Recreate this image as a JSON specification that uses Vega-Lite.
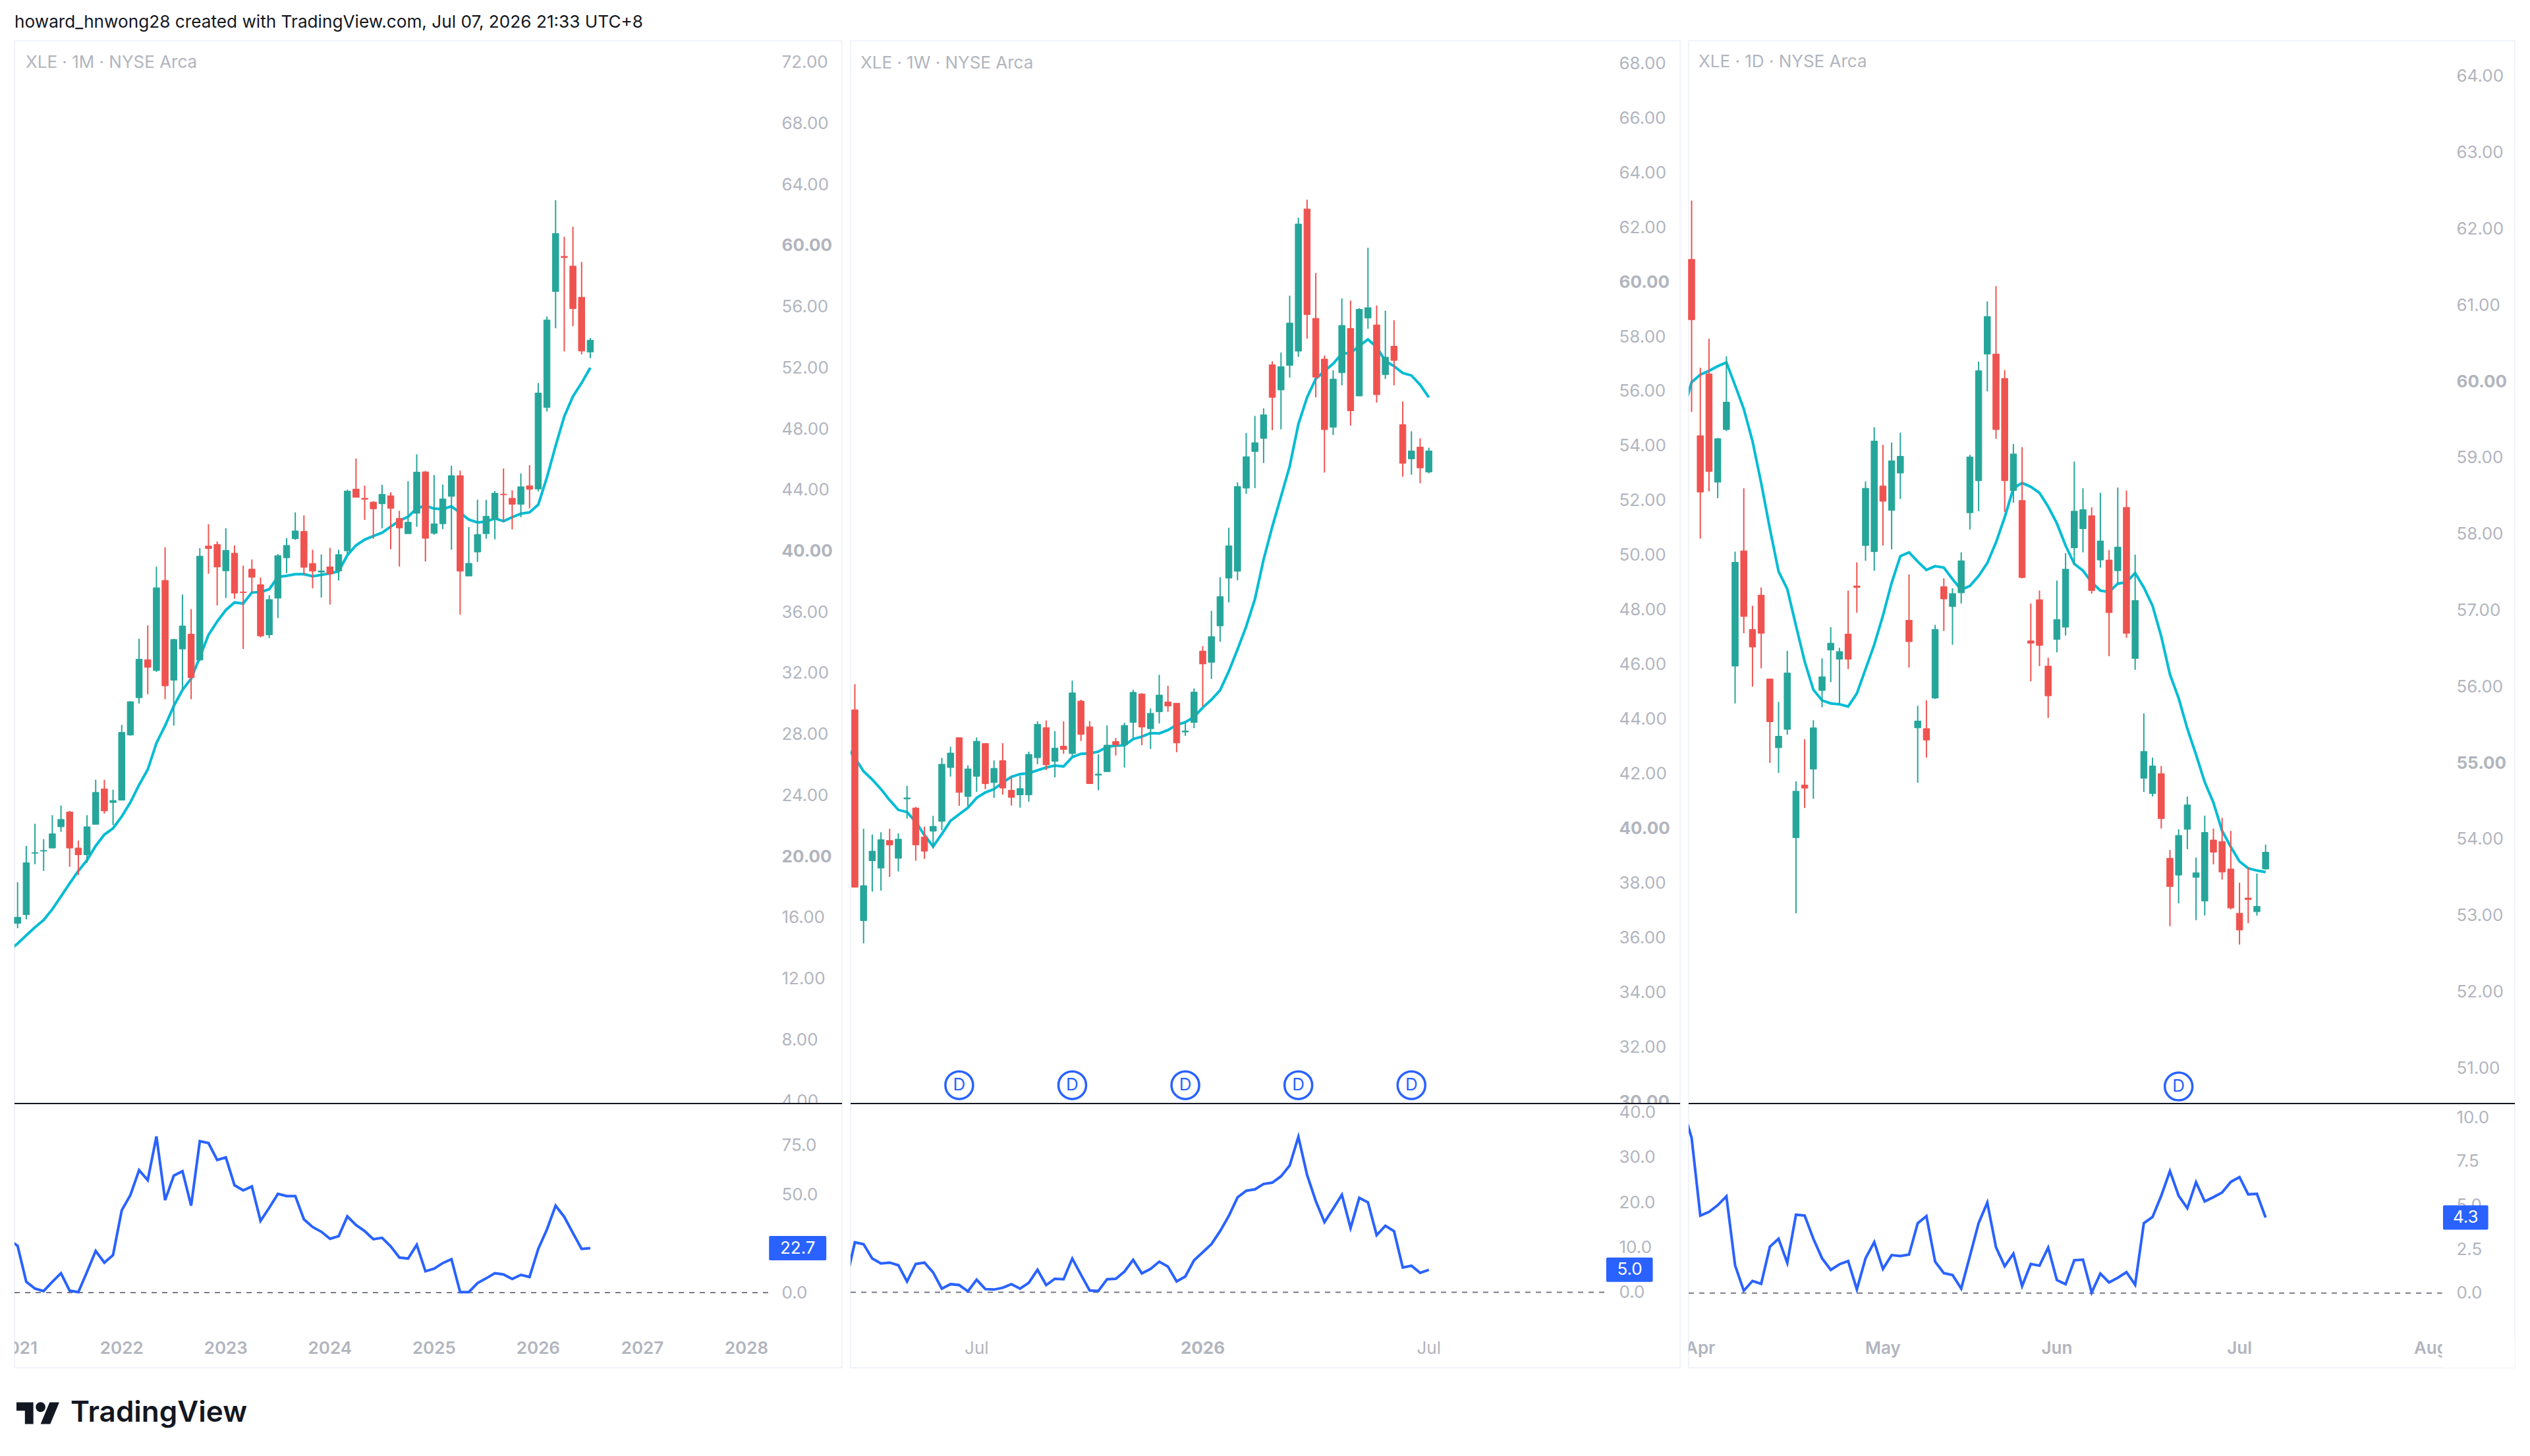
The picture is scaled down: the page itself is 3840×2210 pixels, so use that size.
{
"$schema":"https://vega.github.io/schema/vega-lite/v6.json",
"background":"#ffffff",
"padding":{"left":20,"top":20,"right":0,"bottom":0},
"title":{"text":"howard_hnwong28 created with TradingView.com, Jul 07, 2026 21:33 UTC+8","anchor":"start","frame":"group","font":"Inter","fontSize":26.2,"fontWeight":"normal","color":"#131722","offset":14},
"datasets":{
"monthly":[
{"i":-1,"ma":13.85,"ind":27},
{"i":0,"o":15.63,"h":18.32,"l":15.31,"c":16.03,"ma":14.3,"ind":23.9},
{"i":1,"o":16.2,"h":20.7,"l":15.89,"c":19.59,"ma":14.84,"ind":5.5},
{"i":2,"o":20.22,"h":22.14,"l":19.5,"c":20.26,"ma":15.37,"ind":2.1},
{"i":3,"o":20.36,"h":21.14,"l":19.06,"c":20.4,"ma":15.84,"ind":0.8},
{"i":4,"o":20.56,"h":22.71,"l":20.56,"c":21.49,"ma":16.55,"ind":5.5},
{"i":5,"o":21.95,"h":23.34,"l":21.62,"c":22.43,"ma":17.39,"ind":9.9},
{"i":6,"o":22.92,"h":22.99,"l":19.33,"c":20.56,"ma":18.24,"ind":1},
{"i":7,"o":20.56,"h":21.05,"l":18.8,"c":20.12,"ma":19.06,"ind":0.3},
{"i":8,"o":20.12,"h":22.71,"l":19.59,"c":21.95,"ma":19.77,"ind":10.6},
{"i":9,"o":22.11,"h":25.03,"l":22.11,"c":24.2,"ma":20.7,"ind":21.3},
{"i":10,"o":24.43,"h":25.03,"l":22.81,"c":22.99,"ma":21.44,"ind":15.3},
{"i":11,"o":23.54,"h":24.38,"l":22.06,"c":23.67,"ma":21.85,"ind":19.2},
{"i":12,"o":23.69,"h":28.62,"l":23.69,"c":28.13,"ma":22.62,"ind":42},
{"i":13,"o":27.96,"h":30.17,"l":27.92,"c":30.14,"ma":23.55,"ind":49.8},
{"i":14,"o":30.4,"h":34.26,"l":30.02,"c":32.92,"ma":24.69,"ind":62.5},
{"i":15,"o":32.89,"h":35.14,"l":30.63,"c":32.39,"ma":25.7,"ind":57.4},
{"i":16,"o":32.18,"h":38.98,"l":32.09,"c":37.6,"ma":27.43,"ind":79.7},
{"i":17,"o":38.08,"h":40.25,"l":30.3,"c":31.18,"ma":28.57,"ind":47.2},
{"i":18,"o":31.55,"h":34.26,"l":28.57,"c":34.21,"ma":29.86,"ind":59.7},
{"i":19,"o":33.59,"h":37.15,"l":30.95,"c":35.1,"ma":30.91,"ind":62},
{"i":20,"o":34.56,"h":36.2,"l":30.3,"c":31.71,"ma":31.65,"ind":44.4},
{"i":21,"o":32.87,"h":40.19,"l":32.8,"c":39.67,"ma":33.06,"ind":77.3},
{"i":22,"o":40.33,"h":41.76,"l":38.52,"c":40.17,"ma":34.52,"ind":76.3},
{"i":23,"o":40.44,"h":40.63,"l":36.44,"c":38.96,"ma":35.39,"ind":67.7},
{"i":24,"o":38.71,"h":41.5,"l":36.93,"c":40.05,"ma":36.14,"ind":69},
{"i":25,"o":39.86,"h":40.37,"l":36.88,"c":37.25,"ma":36.64,"ind":54.8},
{"i":26,"o":37.32,"h":39.05,"l":33.59,"c":37.28,"ma":36.57,"ind":52.2},
{"i":27,"o":38.82,"h":39.45,"l":37.29,"c":38.29,"ma":37.29,"ind":54.2},
{"i":28,"o":37.8,"h":38.27,"l":34.35,"c":34.45,"ma":37.32,"ind":36.6},
{"i":29,"o":34.52,"h":37.11,"l":34.3,"c":36.83,"ma":37.5,"ind":43.3},
{"i":30,"o":36.92,"h":39.81,"l":35.62,"c":39.7,"ma":38.31,"ind":50.4},
{"i":31,"o":39.56,"h":40.85,"l":38.56,"c":40.37,"ma":38.38,"ind":49.3},
{"i":32,"o":40.81,"h":42.54,"l":40.74,"c":41.32,"ma":38.49,"ind":49.3},
{"i":33,"o":41.29,"h":42.34,"l":38.44,"c":38.94,"ma":38.49,"ind":37.4},
{"i":34,"o":39.19,"h":40.09,"l":37.56,"c":38.69,"ma":38.35,"ind":33.5},
{"i":35,"o":38.63,"h":39.78,"l":36.96,"c":38.7,"ma":38.45,"ind":31.1},
{"i":36,"o":38.97,"h":40.21,"l":36.5,"c":38.51,"ma":38.54,"ind":27.5},
{"i":37,"o":38.7,"h":40.09,"l":38.08,"c":39.77,"ma":38.68,"ind":28.8},
{"i":38,"o":40.02,"h":44.02,"l":39.84,"c":43.93,"ma":39.73,"ind":38.9},
{"i":39,"o":44.06,"h":46.06,"l":43.52,"c":43.52,"ma":40.38,"ind":34.5},
{"i":40,"o":43.46,"h":44.29,"l":42.04,"c":43.39,"ma":40.75,"ind":31.4},
{"i":41,"o":43.21,"h":43.26,"l":40.81,"c":42.77,"ma":40.99,"ind":27.3},
{"i":42,"o":43.1,"h":44.34,"l":41.49,"c":43.72,"ma":41.2,"ind":28},
{"i":43,"o":43.62,"h":43.86,"l":40.12,"c":42.8,"ma":41.6,"ind":23.6},
{"i":44,"o":42.14,"h":42.64,"l":38.99,"c":41.52,"ma":41.99,"ind":17.9},
{"i":45,"o":41.14,"h":44.58,"l":41.14,"c":41.89,"ma":42.25,"ind":17.4},
{"i":46,"o":42.48,"h":46.34,"l":41.59,"c":45.17,"ma":42.8,"ind":24.4},
{"i":47,"o":45.19,"h":45.24,"l":39.32,"c":40.84,"ma":42.97,"ind":10.9},
{"i":48,"o":41.17,"h":44.98,"l":41.07,"c":41.79,"ma":42.78,"ind":12.2},
{"i":49,"o":41.79,"h":44.36,"l":41.45,"c":43.42,"ma":42.75,"ind":15.1},
{"i":50,"o":43.59,"h":45.59,"l":40.09,"c":44.94,"ma":42.93,"ind":17.1},
{"i":51,"o":44.94,"h":45.27,"l":35.84,"c":38.69,"ma":42.51,"ind":0.3},
{"i":52,"o":38.37,"h":41.58,"l":38.37,"c":39.2,"ma":42.06,"ind":0.3},
{"i":53,"o":39.94,"h":43.37,"l":39.29,"c":41.09,"ma":41.88,"ind":4.9},
{"i":54,"o":41.14,"h":43.36,"l":40.81,"c":42.28,"ma":41.93,"ind":7.3},
{"i":55,"o":42.08,"h":43.93,"l":40.77,"c":43.79,"ma":42.14,"ind":9.9},
{"i":56,"o":43.73,"h":45.41,"l":41.89,"c":43.69,"ma":41.96,"ind":9.3},
{"i":57,"o":43.46,"h":43.98,"l":41.42,"c":43.07,"ma":42.22,"ind":7},
{"i":58,"o":43.07,"h":45.08,"l":42.22,"c":44.21,"ma":42.45,"ind":9.1},
{"i":59,"o":44.28,"h":45.62,"l":42.8,"c":44.05,"ma":42.54,"ind":8},
{"i":60,"o":44.07,"h":51.01,"l":43.91,"c":50.35,"ma":43.04,"ind":22.3},
{"i":61,"o":49.41,"h":55.36,"l":49.14,"c":55.13,"ma":44.82,"ind":32.2},
{"i":62,"o":57,"h":62.98,"l":54.59,"c":60.8,"ma":46.88,"ind":44.4},
{"i":63,"o":59.3,"h":60.58,"l":53.07,"c":59.22,"ma":48.81,"ind":38.7},
{"i":64,"o":58.66,"h":61.24,"l":54.72,"c":55.88,"ma":50.13,"ind":30.4},
{"i":65,"o":56.62,"h":58.93,"l":52.88,"c":53.1,"ma":51.01,"ind":22.3},
{"i":66,"o":53.04,"h":53.95,"l":52.63,"c":53.81,"ma":52,"ind":22.7}
],
"weekly":[
{"i":-1,"ma":43,"ind":2.6},
{"i":0,"o":44.35,"h":45.29,"l":37.86,"c":37.86,"ma":42.6,"ind":11.1},
{"i":1,"o":36.64,"h":40,"l":35.81,"c":37.92,"ma":42.1,"ind":10.7},
{"i":2,"o":38.83,"h":39.79,"l":37.7,"c":39.18,"ma":41.8,"ind":7.5},
{"i":3,"o":38.56,"h":39.87,"l":37.74,"c":39.6,"ma":41.45,"ind":6.4},
{"i":4,"o":39.57,"h":40,"l":38.24,"c":39.41,"ma":41.05,"ind":6.6},
{"i":5,"o":38.92,"h":39.83,"l":38.44,"c":39.62,"ma":40.69,"ind":6},
{"i":6,"o":41.09,"h":41.57,"l":40.37,"c":41.13,"ma":40.61,"ind":2.4},
{"i":7,"o":40.76,"h":40.8,"l":38.83,"c":39.41,"ma":40.25,"ind":6.3},
{"i":8,"o":39.7,"h":40.08,"l":38.9,"c":39.18,"ma":39.77,"ind":6.6},
{"i":9,"o":39.91,"h":40.47,"l":39.27,"c":40.09,"ma":39.35,"ind":4.4},
{"i":10,"o":40.27,"h":42.59,"l":39.95,"c":42.36,"ma":39.81,"ind":0.8},
{"i":11,"o":42.24,"h":43,"l":41.91,"c":42.77,"ma":40.29,"ind":1.8},
{"i":12,"o":43.33,"h":43.34,"l":40.84,"c":41.33,"ma":40.53,"ind":1.6},
{"i":13,"o":41.18,"h":42.32,"l":40.81,"c":42.19,"ma":40.77,"ind":0.2},
{"i":14,"o":41.92,"h":43.34,"l":41.35,"c":43.2,"ma":41.13,"ind":2.8},
{"i":15,"o":43.12,"h":43.12,"l":41.45,"c":41.65,"ma":41.33,"ind":0.7},
{"i":16,"o":41.69,"h":42.5,"l":41.13,"c":42.21,"ma":41.45,"ind":0.6},
{"i":17,"o":42.49,"h":43.13,"l":41.25,"c":41.49,"ma":41.69,"ind":1},
{"i":18,"o":41.41,"h":41.94,"l":40.85,"c":41.15,"ma":41.9,"ind":1.8},
{"i":19,"o":41.24,"h":41.94,"l":40.77,"c":41.47,"ma":42,"ind":0.8},
{"i":20,"o":41.24,"h":42.82,"l":40.99,"c":42.72,"ma":42.03,"ind":2.1},
{"i":21,"o":42.6,"h":43.93,"l":42.36,"c":43.82,"ma":42.14,"ind":5},
{"i":22,"o":43.7,"h":43.96,"l":42.15,"c":42.34,"ma":42.24,"ind":1.6},
{"i":23,"o":42.47,"h":43.57,"l":41.88,"c":42.95,"ma":42.31,"ind":3},
{"i":24,"o":43.02,"h":43.93,"l":42.74,"c":42.9,"ma":42.28,"ind":2.9},
{"i":25,"o":42.75,"h":45.42,"l":42.66,"c":44.97,"ma":42.62,"ind":7.5},
{"i":26,"o":44.67,"h":44.72,"l":43.21,"c":43.45,"ma":42.74,"ind":3.9},
{"i":27,"o":43.73,"h":43.94,"l":41.65,"c":41.65,"ma":42.76,"ind":0.4},
{"i":28,"o":41.96,"h":42.72,"l":41.41,"c":42,"ma":42.82,"ind":0.3},
{"i":29,"o":42.09,"h":43.78,"l":42.09,"c":43.06,"ma":43,"ind":2.9},
{"i":30,"o":43.19,"h":43.32,"l":42.68,"c":43.07,"ma":43.04,"ind":3},
{"i":31,"o":43.08,"h":43.88,"l":42.24,"c":43.78,"ma":43.05,"ind":4.6},
{"i":32,"o":43.89,"h":45.08,"l":43.3,"c":44.99,"ma":43.28,"ind":7.2},
{"i":33,"o":44.93,"h":44.96,"l":43.06,"c":43.72,"ma":43.37,"ind":4.2},
{"i":34,"o":43.66,"h":44.4,"l":42.92,"c":44.22,"ma":43.5,"ind":5.2},
{"i":35,"o":44.28,"h":45.63,"l":43.85,"c":44.89,"ma":43.49,"ind":6.8},
{"i":36,"o":44.64,"h":45.23,"l":44.28,"c":44.49,"ma":43.61,"ind":5.7},
{"i":37,"o":44.59,"h":44.6,"l":42.8,"c":43.14,"ma":43.8,"ind":2.4},
{"i":38,"o":43.54,"h":43.9,"l":43.4,"c":43.58,"ma":43.9,"ind":3.5},
{"i":39,"o":43.89,"h":45.13,"l":43.68,"c":45,"ma":44.09,"ind":7.1},
{"i":40,"o":46.5,"h":46.68,"l":44.47,"c":46.03,"ma":44.43,"ind":8.9},
{"i":41,"o":46.09,"h":47.97,"l":45.48,"c":47.03,"ma":44.72,"ind":10.7},
{"i":42,"o":47.42,"h":49.2,"l":46.84,"c":48.49,"ma":45.07,"ind":13.6},
{"i":43,"o":49.17,"h":51.01,"l":48.28,"c":50.35,"ma":45.76,"ind":17},
{"i":44,"o":49.42,"h":52.67,"l":49.09,"c":52.52,"ma":46.56,"ind":21.1},
{"i":45,"o":52.46,"h":54.48,"l":52.25,"c":53.61,"ma":47.4,"ind":22.6},
{"i":46,"o":53.8,"h":55.1,"l":52.46,"c":54.12,"ma":48.4,"ind":22.9},
{"i":47,"o":54.28,"h":55.38,"l":53.38,"c":55.14,"ma":49.85,"ind":24.1},
{"i":48,"o":56.97,"h":57.1,"l":54.58,"c":55.78,"ma":51.05,"ind":24.4},
{"i":49,"o":56.05,"h":57.42,"l":54.61,"c":56.9,"ma":52.15,"ind":25.8},
{"i":50,"o":56.95,"h":59.5,"l":56.5,"c":58.5,"ma":53.26,"ind":28.2},
{"i":51,"o":57.47,"h":62.35,"l":57.26,"c":62.12,"ma":54.8,"ind":34.6},
{"i":52,"o":62.67,"h":63.01,"l":57.93,"c":58.81,"ma":55.78,"ind":26.1},
{"i":53,"o":58.67,"h":60.33,"l":55.78,"c":56.52,"ma":56.46,"ind":20.3},
{"i":54,"o":57.18,"h":57.31,"l":53.03,"c":54.6,"ma":56.74,"ind":15.6},
{"i":55,"o":54.69,"h":56.77,"l":54.4,"c":56.45,"ma":57.01,"ind":18.6},
{"i":56,"o":56.68,"h":59.4,"l":56.22,"c":58.41,"ma":57.38,"ind":21.7},
{"i":57,"o":58.3,"h":59.32,"l":54.75,"c":55.29,"ma":57.4,"ind":14.3},
{"i":58,"o":55.83,"h":59.04,"l":55.83,"c":59,"ma":57.66,"ind":21},
{"i":59,"o":58.68,"h":61.25,"l":58.29,"c":59.06,"ma":57.9,"ind":20},
{"i":60,"o":58.43,"h":59.14,"l":55.59,"c":55.88,"ma":57.62,"ind":12.7},
{"i":61,"o":56.61,"h":58.95,"l":56.45,"c":57.25,"ma":57.11,"ind":14.8},
{"i":62,"o":57.65,"h":58.6,"l":56.22,"c":57.13,"ma":56.92,"ind":13.6},
{"i":63,"o":54.78,"h":55.63,"l":52.88,"c":53.37,"ma":56.67,"ind":5.5},
{"i":64,"o":53.53,"h":54.54,"l":52.95,"c":53.82,"ma":56.58,"ind":5.9},
{"i":65,"o":53.96,"h":54.28,"l":52.64,"c":53.2,"ma":56.24,"ind":4.3},
{"i":66,"o":53.05,"h":53.94,"l":53,"c":53.82,"ma":55.78,"ind":5}
],
"daily":[
{"i":-1,"ma":59.6,"ind":10.5},
{"i":0,"o":61.6,"h":62.37,"l":59.6,"c":60.81,"ma":59.99,"ind":8.84},
{"i":1,"o":59.29,"h":60.18,"l":57.94,"c":58.55,"ma":60.09,"ind":4.41},
{"i":2,"o":60.1,"h":60.56,"l":58.56,"c":58.82,"ma":60.14,"ind":4.62},
{"i":3,"o":58.68,"h":59.26,"l":58.47,"c":59.25,"ma":60.2,"ind":5},
{"i":4,"o":59.37,"h":60.33,"l":59.35,"c":59.73,"ma":60.25,"ind":5.51},
{"i":5,"o":56.27,"h":57.77,"l":55.78,"c":57.63,"ma":59.95,"ind":1.58},
{"i":6,"o":57.78,"h":58.6,"l":56.7,"c":56.92,"ma":59.64,"ind":0.13},
{"i":7,"o":56.75,"h":57.06,"l":56,"c":56.52,"ma":59.22,"ind":0.69},
{"i":8,"o":57.2,"h":57.3,"l":56.24,"c":56.7,"ma":58.67,"ind":0.53},
{"i":9,"o":56.1,"h":56.1,"l":55,"c":55.54,"ma":58.07,"ind":2.64},
{"i":10,"o":55.2,"h":55.8,"l":54.87,"c":55.35,"ma":57.51,"ind":3.09},
{"i":11,"o":55.44,"h":56.47,"l":55.37,"c":56.18,"ma":57.28,"ind":1.72},
{"i":12,"o":54.02,"h":54.76,"l":53.03,"c":54.63,"ma":56.8,"ind":4.46},
{"i":13,"o":54.71,"h":55.31,"l":54.41,"c":54.67,"ma":56.33,"ind":4.41},
{"i":14,"o":54.92,"h":55.56,"l":54.53,"c":55.46,"ma":55.96,"ind":3.09},
{"i":15,"o":55.95,"h":56.37,"l":55.73,"c":56.13,"ma":55.82,"ind":1.98},
{"i":16,"o":56.48,"h":56.78,"l":56.06,"c":56.57,"ma":55.78,"ind":1.32},
{"i":17,"o":56.36,"h":56.51,"l":55.78,"c":56.46,"ma":55.77,"ind":1.64},
{"i":18,"o":56.69,"h":57.26,"l":56.23,"c":56.36,"ma":55.74,"ind":1.82},
{"i":19,"o":57.32,"h":57.63,"l":56.97,"c":57.3,"ma":55.91,"ind":0.21},
{"i":20,"o":57.85,"h":58.69,"l":57.65,"c":58.6,"ma":56.23,"ind":1.98},
{"i":21,"o":57.77,"h":59.4,"l":57.52,"c":59.22,"ma":56.55,"ind":2.9},
{"i":22,"o":58.63,"h":59.17,"l":57.85,"c":58.43,"ma":56.93,"ind":1.37},
{"i":23,"o":58.31,"h":59.2,"l":57.8,"c":58.96,"ma":57.36,"ind":2.16},
{"i":24,"o":58.8,"h":59.33,"l":58.46,"c":59.02,"ma":57.71,"ind":2.11},
{"i":25,"o":56.87,"h":57.47,"l":56.25,"c":56.59,"ma":57.76,"ind":2.19},
{"i":26,"o":55.46,"h":55.75,"l":54.74,"c":55.55,"ma":57.64,"ind":3.98},
{"i":27,"o":55.45,"h":55.82,"l":55.07,"c":55.3,"ma":57.53,"ind":4.38},
{"i":28,"o":55.85,"h":56.81,"l":55.84,"c":56.75,"ma":57.58,"ind":1.79},
{"i":29,"o":57.31,"h":57.42,"l":56.73,"c":57.15,"ma":57.56,"ind":1.13},
{"i":30,"o":57.05,"h":57.29,"l":56.55,"c":57.22,"ma":57.41,"ind":1.03},
{"i":31,"o":57.23,"h":57.76,"l":57.09,"c":57.65,"ma":57.27,"ind":0.26},
{"i":32,"o":58.28,"h":59.04,"l":58.06,"c":59.01,"ma":57.32,"ind":2.11},
{"i":33,"o":58.7,"h":60.26,"l":58.3,"c":60.14,"ma":57.45,"ind":3.98},
{"i":34,"o":60.36,"h":61.05,"l":59.87,"c":60.85,"ma":57.62,"ind":5.15},
{"i":35,"o":60.36,"h":61.25,"l":59.25,"c":59.37,"ma":57.89,"ind":2.61},
{"i":36,"o":60.04,"h":60.15,"l":58.29,"c":58.7,"ma":58.22,"ind":1.53},
{"i":37,"o":58.57,"h":59.18,"l":58.41,"c":59.05,"ma":58.6,"ind":2.24},
{"i":38,"o":58.44,"h":59.14,"l":57.42,"c":57.43,"ma":58.67,"ind":0.4},
{"i":39,"o":56.6,"h":57.09,"l":56.07,"c":56.57,"ma":58.62,"ind":1.66},
{"i":40,"o":57.14,"h":57.26,"l":56.27,"c":56.54,"ma":58.54,"ind":1.56},
{"i":41,"o":56.27,"h":56.38,"l":55.59,"c":55.88,"ma":58.36,"ind":2.59},
{"i":42,"o":56.62,"h":57.39,"l":56.45,"c":56.88,"ma":58.14,"ind":0.74},
{"i":43,"o":56.78,"h":57.75,"l":56.67,"c":57.54,"ma":57.85,"ind":0.5},
{"i":44,"o":57.82,"h":58.95,"l":57.59,"c":58.3,"ma":57.61,"ind":1.87},
{"i":45,"o":58.07,"h":58.6,"l":57.76,"c":58.32,"ma":57.52,"ind":1.9},
{"i":46,"o":58.24,"h":58.35,"l":57.22,"c":57.26,"ma":57.37,"ind":0.03},
{"i":47,"o":57.66,"h":58.54,"l":57.56,"c":57.91,"ma":57.26,"ind":1.11},
{"i":48,"o":57.66,"h":57.79,"l":56.4,"c":56.97,"ma":57.24,"ind":0.61},
{"i":49,"o":57.52,"h":58.61,"l":57.35,"c":57.83,"ma":57.35,"ind":0.87},
{"i":50,"o":58.35,"h":58.57,"l":56.64,"c":56.7,"ma":57.37,"ind":1.19},
{"i":51,"o":56.37,"h":57.73,"l":56.22,"c":57.13,"ma":57.49,"ind":0.47},
{"i":52,"o":54.8,"h":55.65,"l":54.62,"c":55.15,"ma":57.3,"ind":3.98},
{"i":53,"o":54.6,"h":55.07,"l":54.56,"c":54.96,"ma":57.06,"ind":4.33},
{"i":54,"o":54.86,"h":54.96,"l":54.14,"c":54.27,"ma":56.66,"ind":5.54},
{"i":55,"o":53.75,"h":53.86,"l":52.86,"c":53.38,"ma":56.16,"ind":6.94},
{"i":56,"o":53.53,"h":54.13,"l":53.16,"c":54.05,"ma":55.85,"ind":5.54},
{"i":57,"o":54.13,"h":54.56,"l":53.87,"c":54.45,"ma":55.45,"ind":4.83},
{"i":58,"o":53.5,"h":53.76,"l":52.94,"c":53.56,"ma":55.11,"ind":6.31},
{"i":59,"o":53.19,"h":54.31,"l":53,"c":54.09,"ma":54.75,"ind":5.22},
{"i":60,"o":53.99,"h":54.14,"l":53.67,"c":53.83,"ma":54.48,"ind":5.46},
{"i":61,"o":53.97,"h":54.28,"l":53.47,"c":53.57,"ma":54.11,"ind":5.73},
{"i":62,"o":53.61,"h":54.11,"l":53.08,"c":53.1,"ma":53.9,"ind":6.33},
{"i":63,"o":53.03,"h":53.43,"l":52.62,"c":52.81,"ma":53.71,"ind":6.6},
{"i":64,"o":53.23,"h":53.63,"l":52.9,"c":53.21,"ma":53.62,"ind":5.62},
{"i":65,"o":53.05,"h":53.55,"l":53,"c":53.12,"ma":53.59,"ind":5.65},
{"i":66,"o":53.61,"h":53.93,"l":53.6,"c":53.83,"ma":53.57,"ind":4.3}
]
},
"spacing":43,
"vconcat":[
{"hconcat":[
{"vconcat":[
{"width":1256,"height":1613,
"layer":[
{"data":{"name":"monthly"},"mark":{"type":"line","color":"#00bcd4","strokeWidth":4,"clip":true},"encoding":{"x":{"field":"i","type":"quantitative","axis":null,"scale":{"domain":[-0.357,95.01],"nice":false,"zero":false,"padding":0}},"y":{"field":"ma","type":"quantitative","scale":{"domain":[3.83,73.41],"nice":false,"zero":false,"padding":0},"axis":{"title":null,"orient":"right","offset":-92,"labelPadding":0,"labelAlign":"left","values":[4,8,12,16,20,24,28,32,36,40,44,48,52,56,60,64,68,72],"format":".2f","labelFontWeight":{"condition":{"test":"datum.value==20||datum.value==40||datum.value==60","value":"bold"},"value":"normal"}}}}},
{"data":{"name":"monthly"},"mark":{"type":"rule","strokeWidth":2},"encoding":{"x":{"field":"i","type":"quantitative","axis":null,"scale":{"domain":[-0.357,95.01],"nice":false,"zero":false,"padding":0}},"y":{"field":"l","type":"quantitative","axis":{"title":null}},"y2":{"field":"h"},"color":{"condition":{"test":"datum.o<datum.c","value":"#26a69a"},"value":"#ef5350"}}},
{"data":{"name":"monthly"},"mark":{"type":"bar","size":9.5,"orient":"vertical","strokeWidth":1},"encoding":{"x":{"field":"i","type":"quantitative","axis":null,"scale":{"domain":[-0.357,95.01],"nice":false,"zero":false,"padding":0}},"y":{"field":"o","type":"quantitative","axis":{"title":null}},"y2":{"field":"c"},"color":{"condition":{"test":"datum.o<datum.c","value":"#26a69a"},"value":"#ef5350"},"stroke":{"condition":{"test":"datum.o<datum.c","value":"#26a69a"},"value":"#ef5350"}}},
{"data":{"values":[{"label":"XLE · 1M · NYSE Arca"}]},"mark":{"type":"text","align":"left","baseline":"middle","fontSize":26,"color":"#b2b5be"},"encoding":{"x":{"datum":0.93,"axis":null},"y":{"datum":72,"axis":{"title":null}},"text":{"field":"label"}}}
]},
{"width":1256,"height":401,
"layer":[
{"data":{"values":[{"zero":0}]},"mark":{"type":"rule","color":"#787b86","strokeWidth":2,"strokeDash":[8,8]},"encoding":{"x":{"datum":-0.357,"axis":null,"scale":{"domain":[-0.357,95.01],"nice":false,"zero":false,"padding":0}},"x2":{"datum":86.5},"y":{"field":"zero","type":"quantitative","scale":{"domain":[-38.3,96.5],"nice":false,"zero":false,"padding":0},"axis":{"title":null,"orient":"right","offset":-92,"labelPadding":0,"labelAlign":"left","values":[0,25,50,75],"format":".1f"}}}},
{"data":{"name":"monthly"},"mark":{"type":"line","color":"#2962ff","strokeWidth":4,"clip":true},"encoding":{"x":{"field":"i","type":"quantitative","axis":null,"scale":{"domain":[-0.357,95.01],"nice":false,"zero":false,"padding":0}},"y":{"field":"ind","type":"quantitative","axis":{"title":null}}}},
{"data":{"values":[{"i":0,"label":"2021"},{"i":12,"label":"2022"},{"i":24,"label":"2023"},{"i":36,"label":"2024"},{"i":48,"label":"2025"},{"i":60,"label":"2026"},{"i":72,"label":"2027"},{"i":84,"label":"2028"}]},"mark":{"type":"text","clip":true,"fontSize":26,"fontWeight":600,"color":"#b2b5be","baseline":"middle"},"encoding":{"x":{"field":"i","type":"quantitative","axis":null},"y":{"datum":-28.6,"axis":{"title":null}},"text":{"field":"label"}}},
{"data":{"values":[{"v":22.7,"label":"22.7"}]},"mark":{"type":"bar","orient":"horizontal","size":37,"color":"#2962ff","cornerRadius":2},"encoding":{"x":{"datum":86.6,"axis":null},"x2":{"datum":93.2},"y":{"field":"v","type":"quantitative","axis":{"title":null}}}},
{"data":{"values":[{"v":22.7,"label":"22.7"}]},"mark":{"type":"text","fontSize":26,"color":"#ffffff","baseline":"middle"},"encoding":{"x":{"datum":89.9,"axis":null},"y":{"field":"v","type":"quantitative","axis":{"title":null}},"text":{"field":"label"}}},
{"data":{"values":[{"top":96.5}]},"mark":{"type":"rule","color":"#131722","strokeWidth":2},"encoding":{"x":{"datum":-0.357,"axis":null},"x2":{"datum":95.01},"y":{"field":"top","type":"quantitative","axis":{"title":null}}}}
]}
],"spacing":0,"bounds":"flush"},
{"vconcat":[
{"width":1259,"height":1613,
"layer":[
{"data":{"name":"weekly"},"mark":{"type":"line","color":"#00bcd4","strokeWidth":4,"clip":true},"encoding":{"x":{"field":"i","type":"quantitative","axis":null,"scale":{"domain":[-0.492,94.89],"nice":false,"zero":false,"padding":0}},"y":{"field":"ma","type":"quantitative","scale":{"domain":[29.95,68.82],"nice":false,"zero":false,"padding":0},"axis":{"title":null,"orient":"right","offset":-93,"labelPadding":0,"labelAlign":"left","values":[30,32,34,36,38,40,42,44,46,48,50,52,54,56,58,60,62,64,66,68],"format":".2f","labelFontWeight":{"condition":{"test":"datum.value==40||datum.value==60||datum.value==30","value":"bold"},"value":"normal"}}}}},
{"data":{"name":"weekly"},"mark":{"type":"rule","strokeWidth":2},"encoding":{"x":{"field":"i","type":"quantitative","axis":null,"scale":{"domain":[-0.492,94.89],"nice":false,"zero":false,"padding":0}},"y":{"field":"l","type":"quantitative","axis":{"title":null}},"y2":{"field":"h"},"color":{"condition":{"test":"datum.o<datum.c","value":"#26a69a"},"value":"#ef5350"}}},
{"data":{"name":"weekly"},"mark":{"type":"bar","size":9.5,"orient":"vertical","strokeWidth":1},"encoding":{"x":{"field":"i","type":"quantitative","axis":null,"scale":{"domain":[-0.492,94.89],"nice":false,"zero":false,"padding":0}},"y":{"field":"o","type":"quantitative","axis":{"title":null}},"y2":{"field":"c"},"color":{"condition":{"test":"datum.o<datum.c","value":"#26a69a"},"value":"#ef5350"},"stroke":{"condition":{"test":"datum.o<datum.c","value":"#26a69a"},"value":"#ef5350"}}},
{"data":{"values":[{"i":12},{"i":25},{"i":38},{"i":51},{"i":64}]},"mark":{"type":"point","shape":"circle","filled":true,"fill":"#ffffff","stroke":"#2962ff","strokeWidth":3.5,"size":1764,"opacity":1},"encoding":{"x":{"field":"i","type":"quantitative","axis":null},"y":{"datum":30.62,"axis":{"title":null}}}},
{"data":{"values":[{"i":12,"label":"D"},{"i":25,"label":"D"},{"i":38,"label":"D"},{"i":51,"label":"D"},{"i":64,"label":"D"}]},"mark":{"type":"text","fontSize":26,"color":"#2962ff","baseline":"middle"},"encoding":{"x":{"field":"i","type":"quantitative","axis":null},"y":{"datum":30.62,"axis":{"title":null}},"text":{"field":"label"}}},
{"data":{"values":[{"label":"XLE · 1W · NYSE Arca"}]},"mark":{"type":"text","align":"left","baseline":"middle","fontSize":26,"color":"#b2b5be"},"encoding":{"x":{"datum":0.64,"axis":null},"y":{"datum":68,"axis":{"title":null}},"text":{"field":"label"}}}
]},
{"width":1259,"height":401,
"layer":[
{"data":{"values":[{"zero":0}]},"mark":{"type":"rule","color":"#787b86","strokeWidth":2,"strokeDash":[8,8]},"encoding":{"x":{"datum":-0.492,"axis":null,"scale":{"domain":[-0.492,94.89],"nice":false,"zero":false,"padding":0}},"x2":{"datum":86.4},"y":{"field":"zero","type":"quantitative","scale":{"domain":[-16.8,42],"nice":false,"zero":false,"padding":0},"axis":{"title":null,"orient":"right","offset":-93,"labelPadding":0,"labelAlign":"left","values":[0,10,20,30,40],"format":".1f"}}}},
{"data":{"name":"weekly"},"mark":{"type":"line","color":"#2962ff","strokeWidth":4,"clip":true},"encoding":{"x":{"field":"i","type":"quantitative","axis":null,"scale":{"domain":[-0.492,94.89],"nice":false,"zero":false,"padding":0}},"y":{"field":"ind","type":"quantitative","axis":{"title":null}}}},
{"data":{"values":[{"i":14,"label":"Jul"},{"i":66,"label":"Jul"}]},"mark":{"type":"text","clip":true,"fontSize":26,"color":"#b2b5be","baseline":"middle"},"encoding":{"x":{"field":"i","type":"quantitative","axis":null},"y":{"datum":-12.54,"axis":{"title":null}},"text":{"field":"label"}}},
{"data":{"values":[{"i":40,"label":"2026"}]},"mark":{"type":"text","clip":true,"fontSize":26,"fontWeight":700,"color":"#b2b5be","baseline":"middle"},"encoding":{"x":{"field":"i","type":"quantitative","axis":null},"y":{"datum":-12.54,"axis":{"title":null}},"text":{"field":"label"}}},
{"data":{"values":[{"v":5,"label":"5.0"}]},"mark":{"type":"bar","orient":"horizontal","size":37,"color":"#2962ff","cornerRadius":2},"encoding":{"x":{"datum":86.4,"axis":null},"x2":{"datum":91.75},"y":{"field":"v","type":"quantitative","axis":{"title":null}}}},
{"data":{"values":[{"v":5,"label":"5.0"}]},"mark":{"type":"text","fontSize":26,"color":"#ffffff","baseline":"middle"},"encoding":{"x":{"datum":89.1,"axis":null},"y":{"field":"v","type":"quantitative","axis":{"title":null}},"text":{"field":"label"}}},
{"data":{"values":[{"top":42}]},"mark":{"type":"rule","color":"#131722","strokeWidth":2},"encoding":{"x":{"datum":-0.492,"axis":null},"x2":{"datum":94.89},"y":{"field":"top","type":"quantitative","axis":{"title":null}}}}
]}
],"spacing":0,"bounds":"flush"},
{"vconcat":[
{"width":1254,"height":1613,
"layer":[
{"data":{"name":"daily"},"mark":{"type":"line","color":"#00bcd4","strokeWidth":4,"clip":true},"encoding":{"x":{"field":"i","type":"quantitative","axis":null,"scale":{"domain":[-0.341,94.66],"nice":false,"zero":false,"padding":0}},"y":{"field":"ma","type":"quantitative","scale":{"domain":[50.536,64.465],"nice":false,"zero":false,"padding":0},"axis":{"title":null,"orient":"right","offset":-89,"labelPadding":0,"labelAlign":"left","values":[51,52,53,54,55,56,57,58,59,60,61,62,63,64],"format":".2f","labelFontWeight":{"condition":{"test":"datum.value==55||datum.value==60","value":"bold"},"value":"normal"}}}}},
{"data":{"name":"daily"},"mark":{"type":"rule","strokeWidth":2},"encoding":{"x":{"field":"i","type":"quantitative","axis":null,"scale":{"domain":[-0.341,94.66],"nice":false,"zero":false,"padding":0}},"y":{"field":"l","type":"quantitative","axis":{"title":null}},"y2":{"field":"h"},"color":{"condition":{"test":"datum.o<datum.c","value":"#26a69a"},"value":"#ef5350"}}},
{"data":{"name":"daily"},"mark":{"type":"bar","size":9.5,"orient":"vertical","strokeWidth":1},"encoding":{"x":{"field":"i","type":"quantitative","axis":null,"scale":{"domain":[-0.341,94.66],"nice":false,"zero":false,"padding":0}},"y":{"field":"o","type":"quantitative","axis":{"title":null}},"y2":{"field":"c"},"color":{"condition":{"test":"datum.o<datum.c","value":"#26a69a"},"value":"#ef5350"},"stroke":{"condition":{"test":"datum.o<datum.c","value":"#26a69a"},"value":"#ef5350"}}},
{"data":{"values":[{"i":56}]},"mark":{"type":"point","shape":"circle","filled":true,"fill":"#ffffff","stroke":"#2962ff","strokeWidth":3.5,"size":1764,"opacity":1},"encoding":{"x":{"field":"i","type":"quantitative","axis":null},"y":{"datum":50.76,"axis":{"title":null}}}},
{"data":{"values":[{"i":56,"label":"D"}]},"mark":{"type":"text","fontSize":26,"color":"#2962ff","baseline":"middle"},"encoding":{"x":{"field":"i","type":"quantitative","axis":null},"y":{"datum":50.76,"axis":{"title":null}},"text":{"field":"label"}}},
{"data":{"values":[{"label":"XLE · 1D · NYSE Arca"}]},"mark":{"type":"text","align":"left","baseline":"middle","fontSize":26,"color":"#b2b5be"},"encoding":{"x":{"datum":0.8,"axis":null},"y":{"datum":64.19,"axis":{"title":null}},"text":{"field":"label"}}}
]},
{"width":1254,"height":401,
"layer":[
{"data":{"values":[{"zero":0}]},"mark":{"type":"rule","color":"#787b86","strokeWidth":2,"strokeDash":[8,8]},"encoding":{"x":{"datum":-0.341,"axis":null,"scale":{"domain":[-0.341,94.66],"nice":false,"zero":false,"padding":0}},"x2":{"datum":86.3},"y":{"field":"zero","type":"quantitative","scale":{"domain":[-4.25,10.79],"nice":false,"zero":false,"padding":0},"axis":{"title":null,"orient":"right","offset":-89,"labelPadding":0,"labelAlign":"left","values":[0,2.5,5,7.5,10],"format":".1f"}}}},
{"data":{"name":"daily"},"mark":{"type":"line","color":"#2962ff","strokeWidth":4,"clip":true},"encoding":{"x":{"field":"i","type":"quantitative","axis":null,"scale":{"domain":[-0.341,94.66],"nice":false,"zero":false,"padding":0}},"y":{"field":"ind","type":"quantitative","axis":{"title":null}}}},
{"data":{"values":[{"i":1,"label":"Apr"},{"i":22,"label":"May"},{"i":42,"label":"Jun"},{"i":63,"label":"Jul"},{"i":85,"label":"Aug"}]},"mark":{"type":"text","clip":true,"fontSize":26,"fontWeight":600,"color":"#b2b5be","baseline":"middle"},"encoding":{"x":{"field":"i","type":"quantitative","axis":null},"y":{"datum":-3.16,"axis":{"title":null}},"text":{"field":"label"}}},
{"data":{"values":[{"mask":-2.6}]},"mark":{"type":"rect","color":"#ffffff"},"encoding":{"x":{"datum":86.3,"axis":null},"x2":{"datum":94.66},"y":{"field":"mask","type":"quantitative","axis":{"title":null}},"y2":{"datum":-4.25}}},
{"data":{"values":[{"v":4.3,"label":"4.3"}]},"mark":{"type":"bar","orient":"horizontal","size":37,"color":"#2962ff","cornerRadius":2},"encoding":{"x":{"datum":86.4,"axis":null},"x2":{"datum":91.6},"y":{"field":"v","type":"quantitative","axis":{"title":null}}}},
{"data":{"values":[{"v":4.3,"label":"4.3"}]},"mark":{"type":"text","fontSize":26,"color":"#ffffff","baseline":"middle"},"encoding":{"x":{"datum":89,"axis":null},"y":{"field":"v","type":"quantitative","axis":{"title":null}},"text":{"field":"label"}}},
{"data":{"values":[{"top":10.79}]},"mark":{"type":"rule","color":"#131722","strokeWidth":2},"encoding":{"x":{"datum":-0.341,"axis":null},"x2":{"datum":94.66},"y":{"field":"top","type":"quantitative","axis":{"title":null}}}}
]}
],"spacing":0,"bounds":"flush"}
],"spacing":9},
{"width":400,"height":52,"view":{"stroke":null,"fill":null},
"layer":[
{"data":{"values":[{"name":"TradingView logo"}]},"mark":{"type":"point","filled":true,"opacity":1,"color":"#131722","size":4225,"shape":"M-0.2113 0.507H-0.6056V-0.1127H-1V-0.507H-0.2113ZM0.5775 0.507H0.1268L0.5493 -0.507H1ZM-0.0986 -0.2817a0.2254 0.2254 0 1 0 0.4507 0a0.2254 0.2254 0 1 0 -0.4507 0Z"},"encoding":{"x":{"datum":35.5,"type":"quantitative","scale":{"domain":[0,400],"nice":false,"zero":false},"axis":null},"y":{"datum":25,"type":"quantitative","scale":{"domain":[52,0],"nice":false,"zero":false},"axis":null}}},
{"data":{"values":[{"label":"TradingView"}]},"mark":{"type":"text","align":"left","baseline":"middle","font":"Inter","fontSize":44,"fontWeight":600,"color":"#131722"},"encoding":{"x":{"datum":85,"axis":null},"y":{"datum":25,"axis":null},"text":{"field":"label"}}}
]}
],
"config":{
"view":{"stroke":"#f0f3fa","strokeWidth":2,"fill":"#ffffff"},
"axis":{"labelFont":"Inter","labelFontSize":26,"labelColor":"#b2b5be","domain":false,"ticks":false,"grid":false,"labelOverlap":false,"labelBound":false,"labelFlush":false},
"text":{"font":"Inter"},
"title":{"font":"Inter"}
}
}
